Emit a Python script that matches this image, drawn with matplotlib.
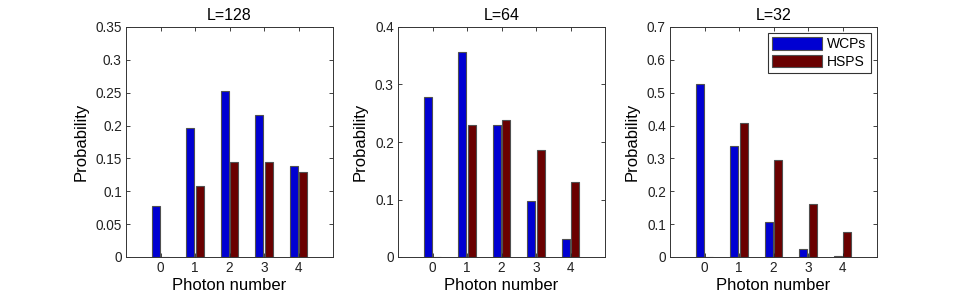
import matplotlib
matplotlib.use("Agg")
import matplotlib.pyplot as plt
import numpy as np

plt.rcParams['font.family'] = ['Liberation Sans', 'DejaVu Sans']

photon_numbers = [0, 1, 2, 3, 4]
titles = ["L=128", "L=64", "L=32"]
wcps_128 = [0.078, 0.197, 0.253, 0.216, 0.139]
hsps_128 = [0.0, 0.108, 0.144, 0.144, 0.129]
wcps_64 = [0.279, 0.357, 0.229, 0.098, 0.032]
hsps_64 = [0.0, 0.229, 0.238, 0.186, 0.130]
wcps_32 = [0.527, 0.337, 0.108, 0.023, 0.004]
hsps_32 = [0.0, 0.407, 0.294, 0.161, 0.077]
ylims = [0.35, 0.4, 0.7]
yticks = [np.arange(0, 0.351, 0.05), np.arange(0, 0.41, 0.1), np.arange(0, 0.71, 0.1)]
ytick_labels = [["0", "0.05", "0.1", "0.15", "0.2", "0.25", "0.3", "0.35"],
                ["0", "0.1", "0.2", "0.3", "0.4"],
                ["0", "0.1", "0.2", "0.3", "0.4", "0.5", "0.6", "0.7"]]

wcps_all = [wcps_128, wcps_64, wcps_32]
hsps_all = [hsps_128, hsps_64, hsps_32]

blue = '#0000d2'
red = '#6a0000'
edge = '#505050'

fig = plt.figure(figsize=(9.69, 2.97), dpi=100)
lefts = [126/969, 398/969, 670/969]
w = 207/969
b = 40/297
h = 230/297

x = np.array(photon_numbers)
bw = 0.24
for i in range(3):
    ax = fig.add_axes([lefts[i], b, w, h])
    ax.bar(x - 0.135, wcps_all[i], width=bw, color=blue, edgecolor=edge, linewidth=0.8, label='WCPs')
    ax.bar(x + 0.135, hsps_all[i], width=bw, color=red, edgecolor=edge, linewidth=0.8, label='HSPS')
    ax.set_xlim(-1, 5)
    ax.set_ylim(0, ylims[i])
    ax.set_xticks(photon_numbers)
    ax.set_yticks(yticks[i])
    ax.set_yticklabels(ytick_labels[i])
    ax.tick_params(direction='in', top=True, right=True, labelsize=9.8, length=3, width=0.6,
                   colors='#222222', pad=3)
    for sp in ax.spines.values():
        sp.set_linewidth(0.7)
        sp.set_color('#333333')
    ax.set_title(titles[i], fontsize=11.5, pad=5)
    ax.set_xlabel('Photon number', fontsize=12, labelpad=2)
    ax.set_ylabel('Probability', fontsize=12, labelpad=5)
    if i == 2:
        leg = ax.legend(loc='upper right', fontsize=10, frameon=True, fancybox=False,
                        edgecolor='black', handlelength=3.6, handleheight=1.0,
                        borderpad=0.3, labelspacing=0.25, handletextpad=0.4,
                        borderaxespad=0.45)
        leg.get_frame().set_linewidth(0.8)

fig.savefig('out.png', dpi=100)
